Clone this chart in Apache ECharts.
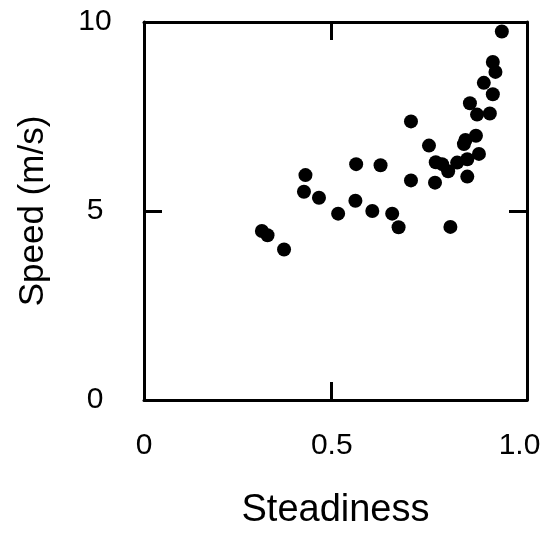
<!DOCTYPE html>
<html lang="en">

<head>
    <meta charset="UTF-8">
    <title>Speed vs Steadiness</title>
    <script src="https://cdn.jsdelivr.net/npm/echarts@6/dist/echarts.min.js"></script>
    <style>
        html, body { margin: 0; padding: 0; background: #fff; }
        #main { width: 550px; height: 543px; }
    </style>
</head>

<body>
    <div id="main"></div>

    <script>
        // values
        var steadiness = [0.314, 0.329, 0.373, 0.430, 0.426, 0.466, 0.517, 0.563, 0.565, 0.608,
            0.630, 0.661, 0.678, 0.711, 0.711, 0.759, 0.775, 0.777, 0.794, 0.810,
            0.816, 0.834, 0.852, 0.856, 0.861, 0.861, 0.868, 0.884, 0.887, 0.892,
            0.905, 0.921, 0.929, 0.929, 0.936, 0.953];
        var speed = [4.47, 4.36, 3.98, 5.95, 5.51, 5.35, 4.93, 5.27, 6.24, 5.00,
            6.21, 4.93, 4.57, 5.81, 7.37, 6.73, 5.75, 6.29, 6.24, 6.05,
            4.58, 6.28, 6.77, 6.88, 6.37, 5.91, 7.85, 6.99, 7.55, 6.51,
            8.39, 7.58, 8.09, 8.94, 8.68, 9.75];
        var xLabels = [0, 0.5, 1.0];
        var xTicks = [0.5];

        var points = [];
        for (var i = 0; i < steadiness.length; i++) {
            points.push([steadiness[i], speed[i]]);
        }

        var font = 'Liberation Sans';
        var frame = { show: true, onZero: false, lineStyle: { color: '#000', width: 3 } };

        var myChart = echarts.init(document.getElementById('main'));
        var option = {
            backgroundColor: '#fff',
            animation: false,
            grid: { left: 144, right: 23, top: 22, bottom: 143 },
            xAxis: [{
                type: 'value',
                position: 'bottom',
                min: 0,
                max: 1.02,
                name: 'Steadiness',
                nameLocation: 'middle',
                nameGap: 92,
                nameTextStyle: { fontFamily: font, fontSize: 38, color: '#000' },
                axisLine: frame,
                axisTick: { show: true, inside: true, length: 18, customValues: xTicks, lineStyle: { color: '#000', width: 3 } },
                axisLabel: {
                    customValues: xLabels,
                    margin: 31,
                    fontFamily: font, fontSize: 30, color: '#000',
                    formatter: function (v) { return v === 0 ? '0' : v.toFixed(1); }
                },
                splitLine: { show: false }
            }, {
                type: 'value',
                position: 'top',
                min: 0,
                max: 1.02,
                axisLine: frame,
                axisTick: { show: true, inside: true, length: 18, customValues: xTicks, lineStyle: { color: '#000', width: 3 } },
                axisLabel: { show: false },
                splitLine: { show: false }
            }],
            yAxis: [{
                type: 'value',
                position: 'left',
                min: 0,
                max: 10,
                interval: 5,
                name: 'Speed (m/s)',
                nameLocation: 'middle',
                nameGap: 93,
                nameTextStyle: { fontFamily: font, fontSize: 35, color: '#000' },
                axisLine: frame,
                axisTick: { show: true, inside: true, length: 18, lineStyle: { color: '#000', width: 3 } },
                axisLabel: { margin: 49, align: 'center', fontFamily: font, fontSize: 30, color: '#000' },
                splitLine: { show: false }
            }, {
                type: 'value',
                position: 'right',
                min: 0,
                max: 10,
                interval: 5,
                axisLine: frame,
                axisTick: { show: true, inside: true, length: 18, lineStyle: { color: '#000', width: 3 } },
                axisLabel: { show: false },
                splitLine: { show: false }
            }],
            series: [{
                type: 'scatter',
                xAxisIndex: 0,
                yAxisIndex: 0,
                symbol: 'circle',
                symbolSize: 14,
                itemStyle: { color: '#000', opacity: 1 },
                data: points
            }]
        };
        myChart.setOption(option);
    </script>
</body>

</html>
